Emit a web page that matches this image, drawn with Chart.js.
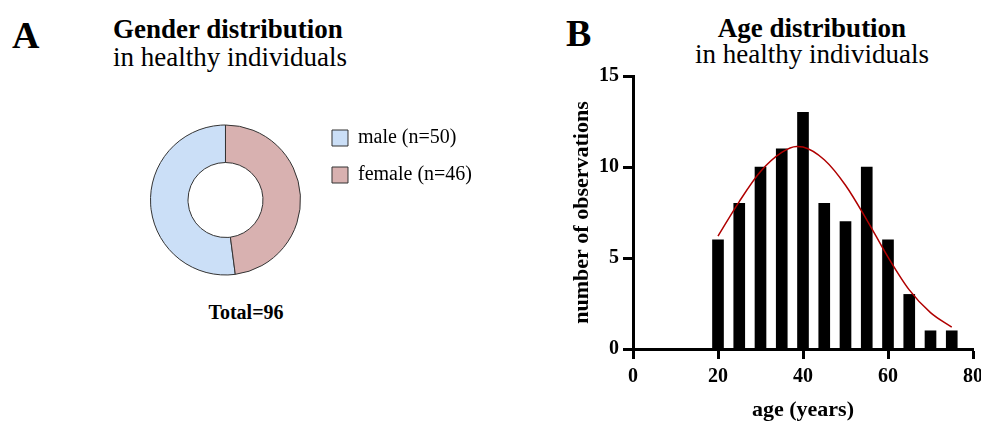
<!DOCTYPE html>
<html lang="en">
  <head>
    <meta charset="UTF-8" />
    <title>Gender and age distribution</title>
    <script src="https://cdn.jsdelivr.net/npm/chart.js"></script>
    <style>
      body {
        margin: 0;
        width: 981px;
        height: 421px;
        background: #fff;
        font-family: "Liberation Serif", serif;
        color: #000;
        position: relative;
        overflow: hidden;
      }
      .txt {
        position: absolute;
        white-space: nowrap;
        line-height: 1;
      }
      .letter {
        font-size: 38px;
        font-weight: bold;
      }
      .title {
        font-size: 27px;
        font-weight: bold;
      }
      .sub {
        font-size: 27px;
      }
      .center {
        transform: translateX(-50%);
      }
      #donutBox {
        position: absolute;
        left: 0;
        top: 100px;
        width: 482px;
        height: 200px;
      }
      #histBox {
        position: absolute;
        left: 560px;
        top: 60px;
        width: 421px;
        height: 364px;
      }
    </style>
  </head>
  <body>
    <!-- panel A -->
    <div class="txt letter" style="left: 12px; top: 16px">A</div>
    <div class="txt title" style="left: 113px; top: 16px">Gender distribution</div>
    <div class="txt sub" style="left: 113px; top: 44px">in healthy individuals</div>
    <div class="txt center" style="left: 246px; top: 302px; font-size: 20px; font-weight: bold">Total=96</div>

    <!-- panel B -->
    <div class="txt letter" style="left: 566px; top: 14px">B</div>
    <div class="txt title center" style="left: 812px; top: 15px">Age distribution</div>
    <div class="txt sub center" style="left: 812px; top: 41px">in healthy individuals</div>

    <div id="donutBox"><canvas id="donutChart"></canvas></div>
    <div id="histBox"><canvas id="histChart"></canvas></div>

    <script>
      // gender counts
      const genderLabels = ["male (n=50)", "female (n=46)"];
      const genderCounts = [50, 46];
      const genderColors = ["#cbdff7", "#d8b1b0"];

      // age histogram (bin centres) and the fitted curve
      const ageBins = [20, 25, 30, 35, 40, 45, 50, 55, 60, 65, 70, 75];
      const ageCounts = [6, 8, 10, 11, 13, 8, 7, 10, 6, 3, 1, 1];
      const fitAges = [20, 25, 30, 35, 38.5, 40, 45, 50, 55, 60, 65, 70, 75];
      const fitCounts = [6.2, 8.1, 9.75, 10.8, 11.13, 11.1, 10.4, 9.0, 7.1, 5.05, 3.25, 2.0, 1.2];

      const xTicks = [0, 20, 40, 60, 80];
      const yTicks = [0, 5, 10, 15];

      const serif = "'Liberation Serif', 'Times New Roman', serif";
      Chart.defaults.font.family = serif;
      Chart.defaults.color = "#000";
      Chart.defaults.animation = false;

      // ---- Gender doughnut ----
      const totalGender = genderCounts.reduce((a, b) => a + b, 0);
      new Chart(document.getElementById("donutChart"), {
        type: "doughnut",
        data: {
          labels: genderLabels,
          datasets: [
            {
              data: genderCounts,
              backgroundColor: genderColors,
              borderColor: "#333",
              borderWidth: 1,
              hoverOffset: 0,
            },
          ],
        },
        options: {
          responsive: true,
          maintainAspectRatio: false,
          radius: 75,
          cutout: "50%",
          // female slice runs clockwise from the top, male fills the rest
          rotation: (genderCounts[1] / totalGender) * 360,
          layout: { padding: { left: 136, top: 11, bottom: 11, right: 0 } },
          plugins: {
            tooltip: { enabled: false },
            legend: {
              position: "right",
              align: "start",
              labels: {
                boxWidth: 16,
                boxHeight: 16,
                padding: 17,
                color: "#000",
                font: { size: 20, family: serif },
              },
            },
          },
        },
      });

      // ---- Age histogram ----
      new Chart(document.getElementById("histChart"), {
        type: "bar",
        data: {
          datasets: [
            {
              type: "line",
              data: fitAges.map((a, i) => ({ x: a, y: fitCounts[i] })),
              borderColor: "#b00000",
              borderWidth: 1.5,
              pointRadius: 0,
              cubicInterpolationMode: "monotone",
              fill: false,
            },
            {
              type: "bar",
              data: ageBins.map((a, i) => ({ x: a, y: ageCounts[i] })),
              backgroundColor: "#000",
              barThickness: 11,
            },
          ],
        },
        options: {
          responsive: true,
          maintainAspectRatio: false,
          layout: { padding: { top: 14, right: 8, left: 0, bottom: 0 } },
          plugins: { legend: { display: false }, tooltip: { enabled: false } },
          scales: {
            x: {
              type: "linear",
              min: 0,
              max: 80,
              offset: false,
              afterBuildTicks: (s) => {
                s.ticks = xTicks.map((v) => ({ value: v }));
              },
              afterFit: (s) => {
                s.height = 75;
                // let the "80" label run into the edge like the original
                s.paddingRight = 0;
              },
              grid: {
                offset: false,
                drawOnChartArea: false,
                tickLength: 10,
                tickWidth: 3,
                tickColor: "#000",
              },
              border: { display: true, width: 3, color: "#000" },
              ticks: {
                padding: 6,
                color: "#000",
                font: { size: 20, weight: "bold", family: serif },
              },
              title: {
                display: true,
                text: "age (years)",
                color: "#000",
                padding: { top: 0, bottom: 0 },
                font: { size: 22, weight: "bold", family: serif },
              },
            },
            y: {
              min: 0,
              max: 15,
              afterBuildTicks: (s) => {
                s.ticks = yTicks.map((v) => ({ value: v }));
              },
              afterFit: (s) => {
                s.width = 73;
              },
              grid: {
                drawOnChartArea: false,
                tickLength: 10,
                tickWidth: 3,
                tickColor: "#000",
              },
              border: { display: true, width: 3, color: "#000" },
              ticks: {
                padding: 4,
                color: "#000",
                font: { size: 20, weight: "bold", family: serif },
              },
              title: {
                display: true,
                text: "number of observations",
                color: "#000",
                padding: { top: 9, bottom: 0 },
                font: { size: 22, weight: "bold", family: serif },
              },
            },
          },
        },
      });
    </script>
  </body>
</html>
